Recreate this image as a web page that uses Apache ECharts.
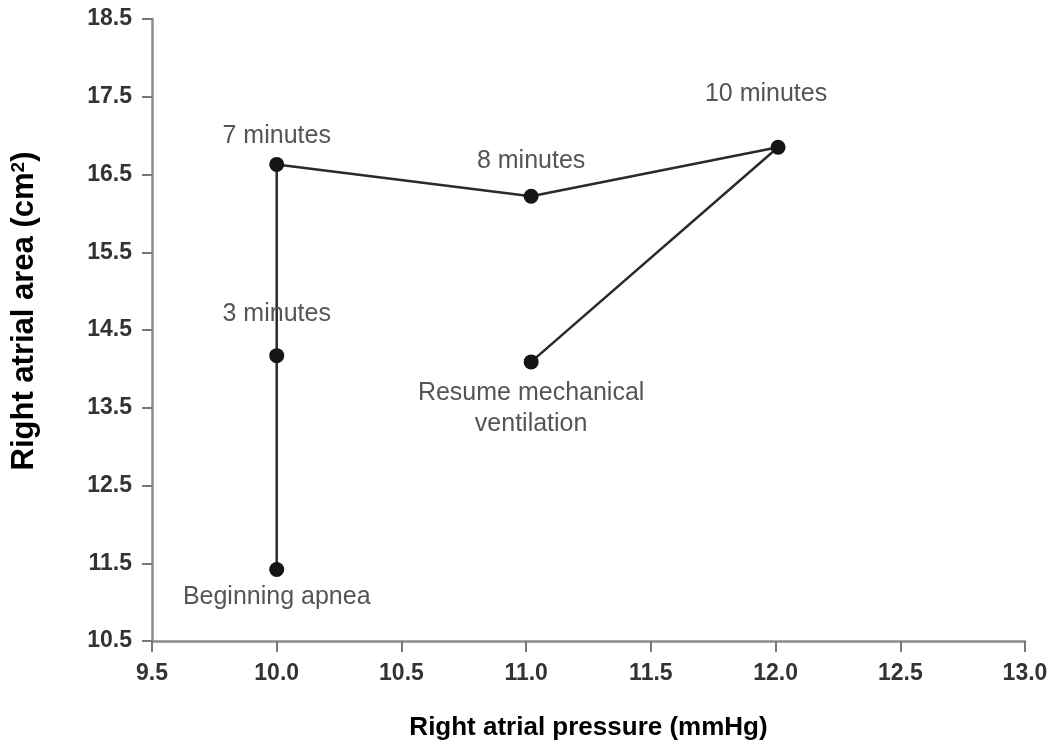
<!DOCTYPE html>
<html>
<head>
<meta charset="utf-8">
<script src="https://cdn.jsdelivr.net/npm/echarts@6/dist/echarts.min.js"></script>
<style>
  html, body { margin: 0; padding: 0; background: #fff; }
  #chart { width: 1057px; height: 749px; }
</style>
</head>
<body>
<div id="chart"></div>
<script>
// pressure (mmHg), area (cm2), and the time label for each point
const pressure = [10.0, 10.0, 10.0, 11.02, 12.01, 11.02];
const area = [11.42, 14.17, 16.63, 16.22, 16.85, 14.09];
const pointNames = ['Beginning apnea', '3 minutes', '7 minutes', '8 minutes', '10 minutes', 'Resume mechanical\nventilation'];

// where each label sits relative to its point
const labelPlace = [
  { position: 'bottom', offset: [0, 0] },
  { position: 'top', offset: [0, -14] },
  { position: 'top', offset: [0, 0] },
  { position: 'top', offset: [0, -7] },
  { position: 'top', offset: [-12, -25] },
  { position: 'bottom', offset: [0, 3] }
];

const chart = echarts.init(document.getElementById('chart'));

const font = '"Liberation Sans", Arial, Helvetica, sans-serif';

const seriesData = pressure.map((p, i) => ({
  value: [p, area[i]],
  name: pointNames[i],
  label: {
    show: true,
    formatter: pointNames[i],
    position: labelPlace[i].position,
    offset: labelPlace[i].offset,
    color: '#555',
    fontSize: 25,
    lineHeight: 31,
    fontFamily: font,
    align: 'center'
  }
}));

chart.setOption({
  animation: false,
  grid: { left: 152, right: 32, top: 19, bottom: 108, containLabel: false },
  xAxis: {
    type: 'value',
    min: 9.5,
    max: 13.0,
    interval: 0.5,
    name: 'Right atrial pressure (mmHg)',
    nameLocation: 'middle',
    nameGap: 74,
    nameTextStyle: { fontSize: 26, fontWeight: 'bold', color: '#000', fontFamily: font },
    axisLine: { show: true, lineStyle: { color: '#8c8c8c', width: 2.5 } },
    axisTick: { show: true, length: 11, lineStyle: { color: '#777', width: 2 } },
    axisLabel: {
      formatter: v => v.toFixed(1),
      fontSize: 23, fontWeight: 'bold', color: '#333', fontFamily: font, margin: 21
    },
    splitLine: { show: false }
  },
  yAxis: {
    type: 'value',
    min: 10.5,
    max: 18.5,
    interval: 1,
    name: 'Right atrial area (cm{sup|2})',
    nameLocation: 'middle',
    nameGap: 112,
    nameTextStyle: {
      fontSize: 31, fontWeight: 'bold', color: '#000', fontFamily: font,
      padding: [0, 0, 0, 38],
      rich: { sup: { fontSize: 19, fontWeight: 'bold', color: '#000', fontFamily: font, verticalAlign: 'top', padding: [0, 0, 12, 0] } }
    },
    axisLine: { show: true, lineStyle: { color: '#8c8c8c', width: 2.5 } },
    axisTick: { show: true, length: 10, lineStyle: { color: '#777', width: 2 } },
    axisLabel: {
      formatter: v => v.toFixed(1),
      fontSize: 23, fontWeight: 'bold', color: '#333', fontFamily: font, margin: 20
    },
    splitLine: { show: false }
  },
  series: [{
    type: 'line',
    data: seriesData,
    symbol: 'circle',
    symbolSize: 15,
    itemStyle: { color: '#151515' },
    lineStyle: { color: '#2a2a2a', width: 2.5 }
  }]
});
</script>
</body>
</html>
